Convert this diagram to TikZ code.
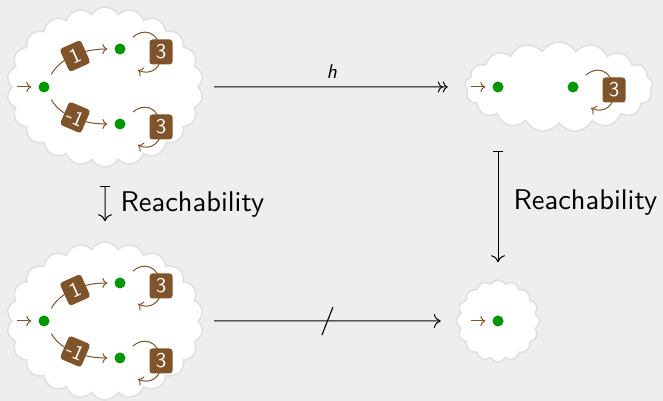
\documentclass[tikz,border=0pt]{standalone}
\usepackage{fontspec}
\setsansfont{lmsans10-regular.otf}[ItalicFont=lmsans10-oblique.otf]
\usetikzlibrary{shapes.symbols,arrows.meta}

\definecolor{bg}{RGB}{238,238,238}
\definecolor{cloudline}{RGB}{224,224,224}
\definecolor{stategreen}{RGB}{0,150,0}
\definecolor{brn}{RGB}{127,84,42}

\tikzset{
  puff/.style={cloud, cloud puffs=#1, cloud puff arc=120, fill=white,
    draw=cloudline, line width=1.5pt, inner sep=0pt},
  dot/.style={circle, fill=stategreen, minimum size=11pt, inner sep=0pt},
  trans/.style={draw=brn, line width=1pt,
    -{Computer Modern Rightarrow[length=5pt,width=10pt]}},
  weight/.style={fill=brn, text=white, rounded corners=3pt,
    minimum width=23pt, minimum height=25pt, inner sep=1pt,
    font=\sffamily\fontsize{21}{21}\selectfont},
  morph/.style={line width=1pt,
    -{Computer Modern Rightarrow[length=7pt,width=14pt]}},
  surj/.style={line width=1pt,
    -{Computer Modern Rightarrow[length=5pt,width=11pt]
      Computer Modern Rightarrow[length=5pt,width=11pt]}},
  mapsto/.style={line width=1pt,
    {Bar[width=10pt,line width=1pt]}-{Computer Modern Rightarrow[length=7pt,width=14pt]}},
  lbl/.style={font=\sffamily\fontsize{28.5}{30}\selectfont, inner sep=0pt, anchor=west},
}

% self loop carrying weight 3 on state #1, label node named #2
\newcommand{\weightloop}[2]{%
  \draw[trans] ([shift={(13,12)}]#1.center)
    .. controls +(9,8) and +(-3,23) .. ([shift={(41,-3)}]#1.center)
    node[weight] (#2) {3}
    .. controls +(2,-16) and +(12,-6) .. ([shift={(18,-21)}]#1.center);
}

\begin{document}
\begin{tikzpicture}[x=1pt,y=1pt]
\fill[bg] (0,0) rectangle (663,401);
\useasboundingbox (0,0) rectangle (663,401);

% clouds
\node[puff=22, minimum width=196pt, minimum height=160pt] (c1) at (105,314) {};
\node[puff=17, minimum width=188pt, minimum height=90pt] (c2) at (559,314) {};
\node[puff=22, minimum width=196pt, minimum height=158pt] (c3) at (105,80) {};
\node[puff=16, minimum width=83pt, minimum height=82pt] (c4) at (498,80) {};

% automaton 1 (top left)
\node[dot] (A1) at (44,314) {};
\node[dot] (B1) at (120,352) {};
\node[dot] (C1) at (120,277) {};
\coordinate (i1) at (17,314);
\draw[trans, shorten >=7pt] (i1) -- (A1);
\draw[trans, shorten <=9pt, shorten >=7pt] (A1) to[out=60,in=180]
  node[weight, sloped, pos=0.5] (w1) {1} (B1);
\draw[trans, shorten <=9pt, shorten >=7pt] (A1) to[out=-60,in=180]
  node[weight, sloped, pos=0.5] (w2) {-1} (C1);
\weightloop{B1}{w3}
\weightloop{C1}{w4}

% automaton 2 (top right)
\node[dot] (D) at (498,314) {};
\node[dot] (E) at (573,314) {};
\coordinate (i2) at (471,314);
\draw[trans, shorten >=7pt] (i2) -- (D);
\weightloop{E}{w5}

% automaton 3 (bottom left)
\node[dot] (A2) at (44,80) {};
\node[dot] (B2) at (120,118) {};
\node[dot] (C2) at (120,43) {};
\coordinate (i3) at (17,80);
\draw[trans, shorten >=7pt] (i3) -- (A2);
\draw[trans, shorten <=9pt, shorten >=7pt] (A2) to[out=60,in=180]
  node[weight, sloped, pos=0.5] (w6) {1} (B2);
\draw[trans, shorten <=9pt, shorten >=7pt] (A2) to[out=-60,in=180]
  node[weight, sloped, pos=0.5] (w7) {-1} (C2);
\weightloop{B2}{w8}
\weightloop{C2}{w9}

% automaton 4 (bottom right)
\node[dot] (F) at (498,80) {};
\coordinate (i4) at (471,80);
\draw[trans, shorten >=7pt] (i4) -- (F);

% morphisms
\draw[surj, shorten <=15pt, shorten >=17pt] (c1.east) -- (c2.west)
  node[midway, above=8pt, inner sep=0pt, font=\sffamily\itshape\fontsize{20}{20}\selectfont] (h) {h};
\draw[morph, shorten <=15pt, shorten >=15pt] (c3.east) -- (c4.west)
  coordinate[midway] (m);
\draw[line width=1.1pt] ([shift={(-5.5,-14)}]m) -- ([shift={(5.5,14)}]m);
\draw[mapsto, shorten <=18pt, shorten >=20pt] (c1.south) -- (c3.north)
  node[midway, lbl, xshift=15pt] (r1) {Reachability};
\draw[mapsto, shorten <=27pt, shorten >=17pt] (c4.north |- c2.south) -- (c4.north)
  node[midway, lbl, xshift=15pt, yshift=-1pt] (r2) {Reachability};
\end{tikzpicture}
\end{document}
